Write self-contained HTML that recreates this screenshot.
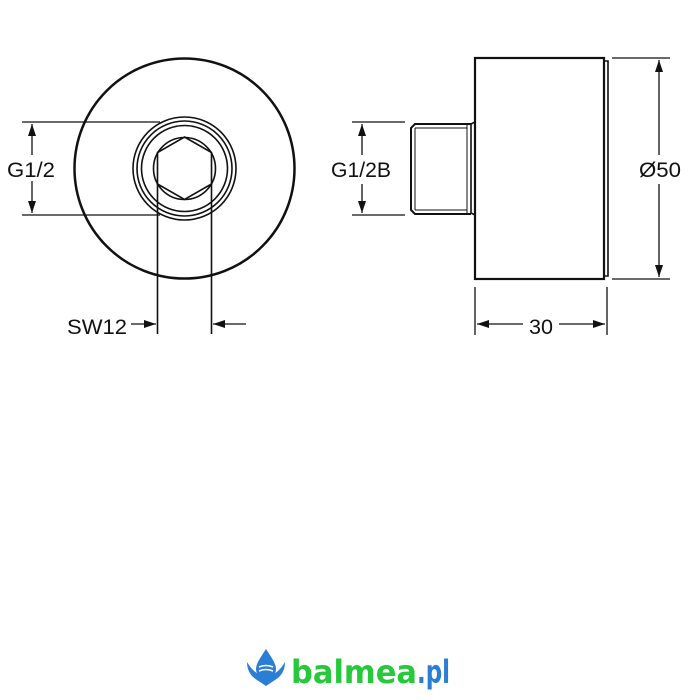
<!DOCTYPE html>
<html><head><style>
html,body{margin:0;padding:0;background:#fff;width:700px;height:700px;overflow:hidden}
</style></head><body>
<svg width="700" height="700" viewBox="0 0 700 700" xmlns="http://www.w3.org/2000/svg" font-family="Liberation Sans, sans-serif">
<defs>
<marker id="a" viewBox="0 0 12 10" refX="12" refY="5" markerWidth="12" markerHeight="10" markerUnits="userSpaceOnUse" orient="auto-start-reverse"><path d="M0,1 L12,5 L0,9 z" fill="#111"/></marker>
</defs>
<g fill="none" stroke="#111">
<circle cx="184.5" cy="168.5" r="110" stroke-width="2.5"/>
<circle cx="184.5" cy="168.5" r="51.5" stroke-width="1.6"/>
<circle cx="184.5" cy="168.5" r="47.5" stroke-width="1.6"/>
<circle cx="184.5" cy="168.5" r="43" stroke-width="1.6"/>
<circle cx="184.5" cy="168.5" r="31" stroke-width="1.6"/>
<polygon points="184.5,137 211.5,152.5 211.5,184 184.5,199.5 157.5,184 157.5,152.5" stroke-width="1.6"/>
<line x1="22" y1="122" x2="160" y2="122" stroke-width="1.3"/>
<line x1="22" y1="215" x2="160" y2="215" stroke-width="1.3"/>
<line x1="32" y1="124" x2="32" y2="213" stroke-width="1.3" marker-start="url(#a)" marker-end="url(#a)"/>
<line x1="157.5" y1="184" x2="157.5" y2="334" stroke-width="1.6"/>
<line x1="211.5" y1="184" x2="211.5" y2="334" stroke-width="1.6"/>
<line x1="131" y1="324" x2="156" y2="324" stroke-width="1.3" marker-end="url(#a)"/>
<line x1="246" y1="324" x2="213" y2="324" stroke-width="1.3" marker-end="url(#a)"/>
<rect x="475" y="58" width="129" height="221" stroke-width="2.2"/>
<polyline points="604,61 608,61 608,276 604,276" stroke-width="1.6"/>
<polyline points="475,122 471,124 471,213 475,215" stroke-width="1.6"/>
<polyline points="471,124 415,124 411,128 411,210 415,214 471,214" stroke-width="2"/>
<line x1="415" y1="128" x2="415" y2="210" stroke-width="1"/>
<line x1="467" y1="124" x2="467" y2="214" stroke-width="1"/>
<line x1="415" y1="128" x2="467" y2="128" stroke-width="1"/>
<line x1="415" y1="210" x2="467" y2="210" stroke-width="1"/>
<line x1="352" y1="122" x2="405" y2="122" stroke-width="1.3"/>
<line x1="352" y1="215" x2="405" y2="215" stroke-width="1.3"/>
<line x1="362" y1="124" x2="362" y2="155" stroke-width="1.3" marker-start="url(#a)"/>
<line x1="362" y1="184" x2="362" y2="213" stroke-width="1.3" marker-end="url(#a)"/>
<line x1="612" y1="58" x2="670" y2="58" stroke-width="1.3"/>
<line x1="612" y1="279" x2="670" y2="279" stroke-width="1.3"/>
<line x1="659" y1="60" x2="659" y2="155" stroke-width="1.3" marker-start="url(#a)"/>
<line x1="659" y1="184" x2="659" y2="277" stroke-width="1.3" marker-end="url(#a)"/>
<line x1="475" y1="287" x2="475" y2="335" stroke-width="1.3"/>
<line x1="607" y1="287" x2="607" y2="335" stroke-width="1.3"/>
<line x1="477" y1="324" x2="523" y2="324" stroke-width="1.3" marker-start="url(#a)"/>
<line x1="559" y1="324" x2="605" y2="324" stroke-width="1.3" marker-end="url(#a)"/>
</g>
<g fill="#111" font-size="21">
<rect x="6" y="155" width="52" height="26" fill="#fff"/>
<text x="7" y="177" textLength="48" lengthAdjust="spacingAndGlyphs">G1/2</text>
<text x="67" y="334" textLength="60" lengthAdjust="spacingAndGlyphs">SW12</text>
<text x="331" y="177" textLength="60" lengthAdjust="spacingAndGlyphs">G1/2B</text>
<text x="639" y="177" textLength="42" lengthAdjust="spacingAndGlyphs">Ø50</text>
<text x="529" y="334" textLength="24" lengthAdjust="spacingAndGlyphs">30</text>
</g>
<g>
<path d="M266,649 C260,658 256,664 256,669 A10,10 0 0 0 276,669 C276,664 272,658 266,649 z" fill="#2a7fd4"/>
<path d="M259,667 q7,-3 14,0 M259,671 q7,-3 14,0" stroke="#fff" stroke-width="1.5" fill="none"/>
<path d="M247,662 q0,12 10,18 l9,6 l9,-6 q10,-6 10,-18 q-6,10 -12,12 l-7,4 l-7,-4 q-6,-2 -12,-12z" fill="#2a7fd4"/>
<text x="291" y="683" font-family="DejaVu Sans, sans-serif" font-weight="bold" font-size="32" fill="#25c93a" textLength="126" lengthAdjust="spacingAndGlyphs">balmea</text>
<text x="417" y="683" font-family="DejaVu Sans, sans-serif" font-weight="bold" font-size="32" fill="#2a7fd4" textLength="33" lengthAdjust="spacingAndGlyphs">.pl</text>
</g>
</svg>
</body></html>
